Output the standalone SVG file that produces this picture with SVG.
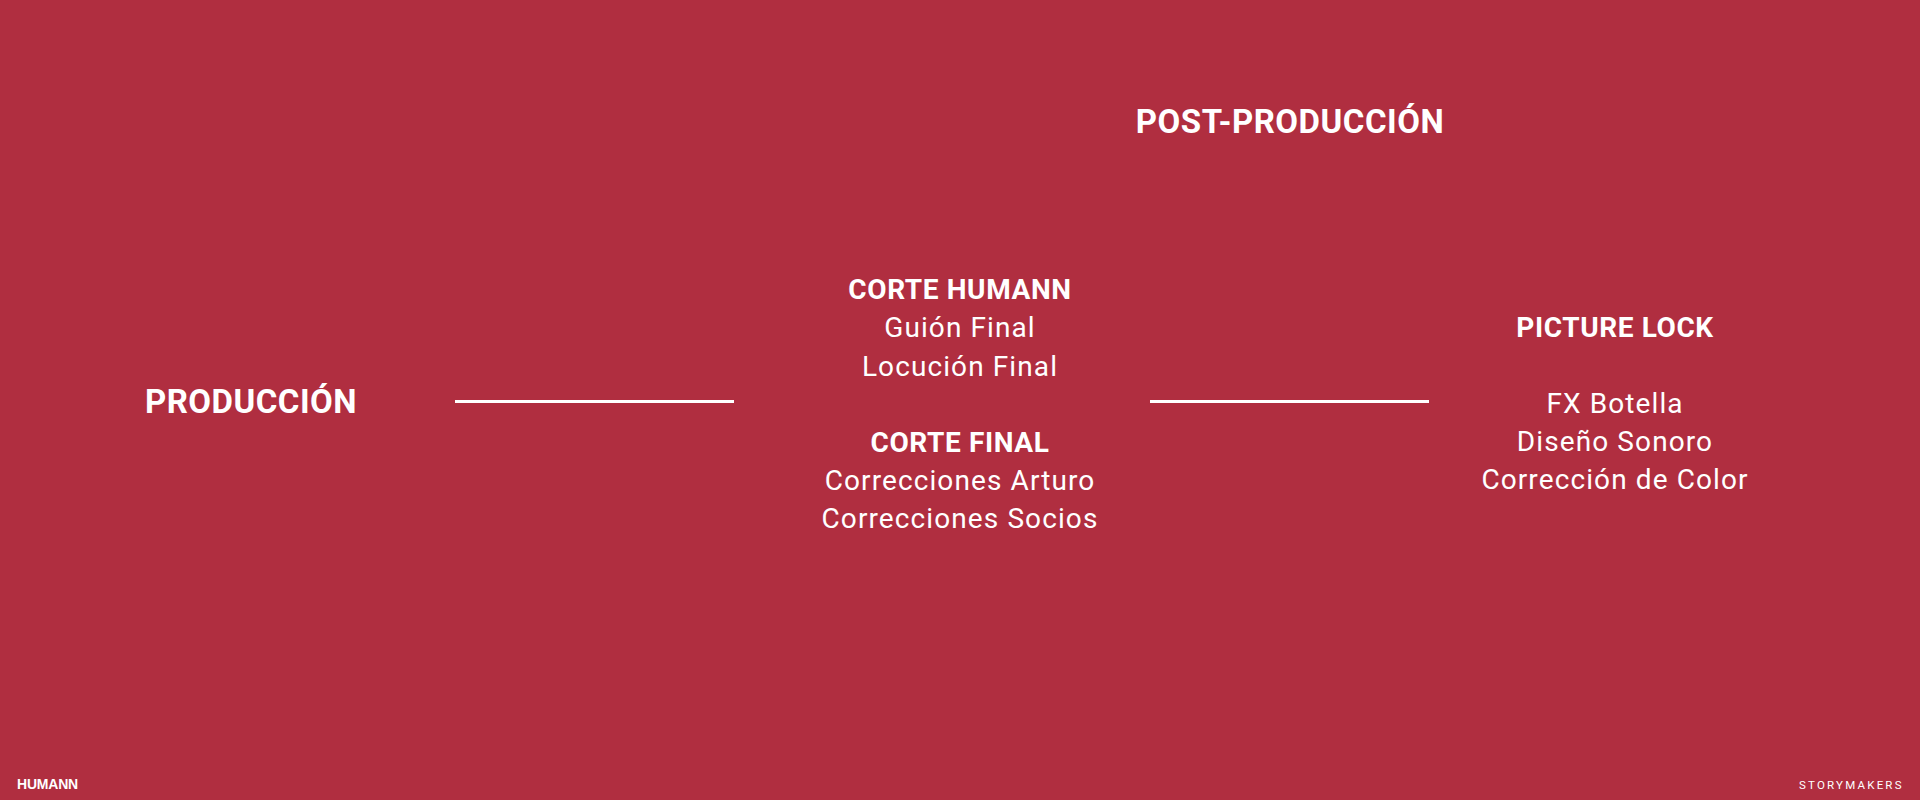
<svg xmlns="http://www.w3.org/2000/svg" width="1920" height="800" viewBox="0 0 1920 800">
<style>
text{fill:#ffffff;font-family:Roboto,"Liberation Sans",sans-serif;text-anchor:middle}
.h1{font-size:33px;font-weight:700;letter-spacing:0.5px}
.h2{font-size:28px;font-weight:700;letter-spacing:0.6px}
.t{font-size:28px;font-weight:400;letter-spacing:1.1px}
.conn{stroke:#ffffff;stroke-width:3;fill:none}
</style>
<rect width="1920" height="800" fill="#B02E40"/>
<g id="connectors">
<line class="conn" x1="455" y1="401.5" x2="734" y2="401.5"/>
<line class="conn" x1="1150" y1="401.5" x2="1429" y2="401.5"/>
</g>
<g id="post-produccion">
<text class="h1" x="1290" y="133">POST-PRODUCCIÓN</text>
</g>
<g id="produccion">
<text class="h1" x="251" y="413">PRODUCCIÓN</text>
</g>
<g id="cortes">
<text class="h2" x="960" y="299">CORTE HUMANN</text>
<text class="t" x="960" y="337">Guión Final</text>
<text class="t" x="960" y="376">Locución Final</text>
<text class="h2" x="960" y="452">CORTE FINAL</text>
<text class="t" x="960" y="490">Correcciones Arturo</text>
<text class="t" x="960" y="528">Correcciones Socios</text>
</g>
<g id="picture-lock">
<text class="h2" x="1615" y="337">PICTURE LOCK</text>
<text class="t" x="1615" y="413">FX Botella</text>
<text class="t" x="1615" y="451">Diseño Sonoro</text>
<text class="t" x="1615" y="489">Corrección de Color</text>
</g>
<g id="footer">
<text x="17" y="789" style="text-anchor:start;font-family:'Liberation Sans',sans-serif;font-weight:700;font-size:14px;letter-spacing:-0.2px">HUMANN</text>
<text x="1799" y="789" style="text-anchor:start;font-size:11.5px;letter-spacing:2.2px">STORYMAKERS</text>
</g>
</svg>
